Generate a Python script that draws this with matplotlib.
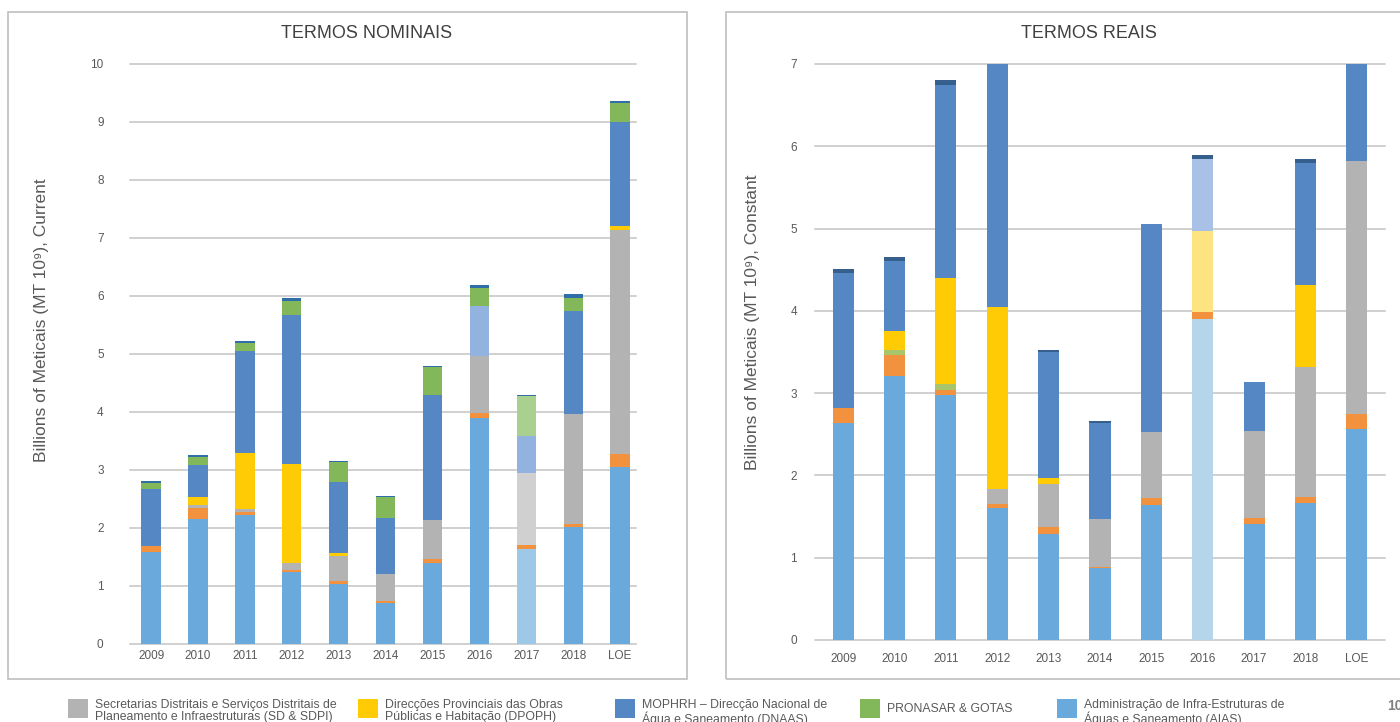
import matplotlib
matplotlib.use("Agg")
import matplotlib.pyplot as plt
from matplotlib.patches import Rectangle
import numpy as np

plt.rcParams['font.family'] = ['Liberation Sans', 'DejaVu Sans']

years = ['2009', '2010', '2011', '2012', '2013', '2014', '2015', '2016', '2017', '2018', 'LOE']

# nominal terms, billions MT (stacked bottom -> top)
nom_aias = [1.59, 2.16, 2.22, 1.25, 1.03, 0.71, 1.40, 3.90, 1.64, 2.01, 3.05]
nom_other = [0.10, 0.18, 0.06, 0.02, 0.06, 0.03, 0.07, 0.08, 0.07, 0.06, 0.23]
nom_sdpi = [0.00, 0.05, 0.05, 0.13, 0.43, 0.47, 0.67, 0.99, 1.23, 1.90, 3.86]
nom_dpoph = [0.00, 0.15, 0.96, 1.71, 0.05, 0.00, 0.00, 0.00, 0.00, 0.00, 0.07]
nom_dnaas = [0.98, 0.55, 1.76, 2.56, 1.22, 0.97, 2.15, 0.00, 0.00, 1.77, 1.79]
nom_extra = [0.00, 0.00, 0.00, 0.00, 0.00, 0.00, 0.00, 0.86, 0.65, 0.00, 0.00]
nom_pronasar = [0.11, 0.13, 0.14, 0.25, 0.35, 0.35, 0.49, 0.31, 0.69, 0.23, 0.33]
nom_top = [0.03, 0.04, 0.03, 0.05, 0.02, 0.02, 0.01, 0.05, 0.02, 0.06, 0.03]

# real terms, billions MT (constant prices)
real_aias = [2.64, 3.21, 2.98, 1.61, 1.29, 0.87, 1.64, 3.90, 1.41, 1.66, 2.56]
real_other = [0.18, 0.25, 0.06, 0.04, 0.08, 0.02, 0.09, 0.09, 0.07, 0.08, 0.19]
real_sdpi = [0.00, 0.00, 0.00, 0.18, 0.52, 0.58, 0.80, 0.00, 1.06, 1.58, 3.07]
real_pronasar = [0.00, 0.06, 0.07, 0.00, 0.00, 0.00, 0.00, 0.00, 0.00, 0.00, 0.00]
real_dpoph = [0.00, 0.24, 1.29, 2.22, 0.08, 0.00, 0.00, 0.98, 0.00, 1.00, 0.00]
real_dnaas = [1.64, 0.84, 2.35, 3.30, 1.53, 1.17, 2.52, 0.00, 0.59, 1.48, 1.55]
real_extra = [0.00, 0.00, 0.00, 0.00, 0.00, 0.00, 0.00, 0.87, 0.00, 0.00, 0.00]
real_top = [0.05, 0.05, 0.05, 0.05, 0.02, 0.02, 0.01, 0.05, 0.01, 0.05, 0.05]

C_AIAS = '#6aa9dc'
C_OTHER = '#f2923f'
C_SDPI = '#b3b3b3'
C_DPOPH = '#ffcb05'
C_DNAAS = '#5687c5'
C_PRON = '#83b85a'
C_EXTRA = '#92b3e0'
TXT = '#595959'
GRID = '#c4c4c4'

W, H = 1400, 722
fig = plt.figure(figsize=(14, 7.22), dpi=100)


def px_axes(x0, y0, x1, y1):
    return fig.add_axes([x0 / W, 1 - y1 / H, (x1 - x0) / W, (y1 - y0) / H])


def colors(base, special):
    # one colour per bar, with a few lighter bars
    out = [base] * len(years)
    for i, c in special.items():
        out[i] = c
    return out


def stack(ax, layers, width):
    x = np.arange(len(years))
    bottom = np.zeros(len(years))
    for vals, cols in layers:
        vals = np.array(vals)
        ax.bar(x, vals, width, bottom=bottom, color=cols, linewidth=0, zorder=3)
        bottom += vals


def style(ax, top, xlim, ypad, xpad):
    ax.set_ylim(0, top)
    ax.set_xlim(*xlim)
    ax.set_xticks(np.arange(len(years)))
    ax.set_xticklabels(years)
    ax.set_yticks(range(top + 1))
    for v in range(top + 1):
        ax.axhline(v, color=GRID, lw=1.1, zorder=1, clip_on=False)
    for s in ax.spines.values():
        s.set_visible(False)
    ax.tick_params(axis='y', length=0, pad=ypad, labelsize=8.5, labelcolor=TXT)
    ax.tick_params(axis='x', length=0, pad=xpad, labelsize=8.5, labelcolor=TXT)


# panel frames
for x0, x1 in [(8, 687), (726, 1410)]:
    fig.patches.append(Rectangle((x0 / W, 1 - 679 / H), (x1 - x0) / W, 667 / H,
                                 transform=fig.transFigure, fill=False,
                                 edgecolor='#bfbfbf', lw=1.2))

# nominal panel
ax1 = px_axes(130, 64, 636, 644)
stack(ax1, [
    (nom_aias, colors(C_AIAS, {8: '#9dc8e8'})),
    (nom_other, C_OTHER),
    (nom_sdpi, colors(C_SDPI, {8: '#d0d0d0'})),
    (nom_dpoph, C_DPOPH),
    (nom_dnaas, C_DNAAS),
    (nom_extra, C_EXTRA),
    (nom_pronasar, colors(C_PRON, {8: '#a9d08e'})),
    (nom_top, '#2f6ea8'),
], 0.41)
style(ax1, 10, (-0.45, 10.34), 19, 4)
fig.text(367 / W, 1 - 34 / H, 'TERMOS NOMINAIS', ha='center', va='center',
         fontsize=13, color='#404040')
fig.text(42 / W, 1 - 320 / H, 'Billions of Meticais (MT 10⁹), Current', rotation=90,
         ha='center', va='center', fontsize=12.5, color=TXT)

# real panel
ax2 = px_axes(815, 64, 1385, 640)
stack(ax2, [
    (real_aias, colors(C_AIAS, {7: '#b5d5ea'})),
    (real_other, C_OTHER),
    (real_sdpi, C_SDPI),
    (real_pronasar, '#a9c56b'),
    (real_dpoph, colors(C_DPOPH, {7: '#fde481'})),
    (real_dnaas, C_DNAAS),
    (real_extra, '#a9c1e6'),
    (real_top, '#355f8c'),
], 0.41)
style(ax2, 7, (-0.55, 10.55), 13, 9)
fig.text(1089 / W, 1 - 34 / H, 'TERMOS REAIS', ha='center', va='center',
         fontsize=13, color='#404040')
fig.text(753 / W, 1 - 322 / H, 'Billions of Meticais (MT 10⁹), Constant', rotation=90,
         ha='center', va='center', fontsize=12.5, color=TXT)

# legend strip along the bottom
legend_items = [
    (68, C_SDPI, 'Secretarias Distritais e Serviços Distritais de\nPlaneamento e Infraestruturas (SD & SDPI)'),
    (358, C_DPOPH, 'Direcções Provinciais das Obras\nPúblicas e Habitação (DPOPH)'),
    (615, C_DNAAS, 'MOPHRH – Direcção Nacional de\nÁgua e Saneamento (DNAAS)'),
    (860, C_PRON, 'PRONASAR & GOTAS'),
    (1057, C_AIAS, 'Administração de Infra-Estruturas de\nÁguas e Saneamento (AIAS)'),
]
for x, c, label in legend_items:
    fig.patches.append(Rectangle((x / W, 1 - 718 / H), 20 / W, 19 / H,
                                 transform=fig.transFigure, color=c, lw=0))
    if '\n' in label:
        fig.text((x + 27) / W, 1 - 699 / H, label, ha='left', va='top',
                 fontsize=8.8, color=TXT, linespacing=1.05)
    else:
        fig.text((x + 27) / W, 1 - 709 / H, label, ha='left', va='center',
                 fontsize=8.8, color=TXT)

fig.text(1387 / W, 1 - 706 / H, '10', ha='left', va='center', fontsize=10,
         fontweight='bold', color='#7f7f7f')

fig.savefig('out.png', dpi=100)
